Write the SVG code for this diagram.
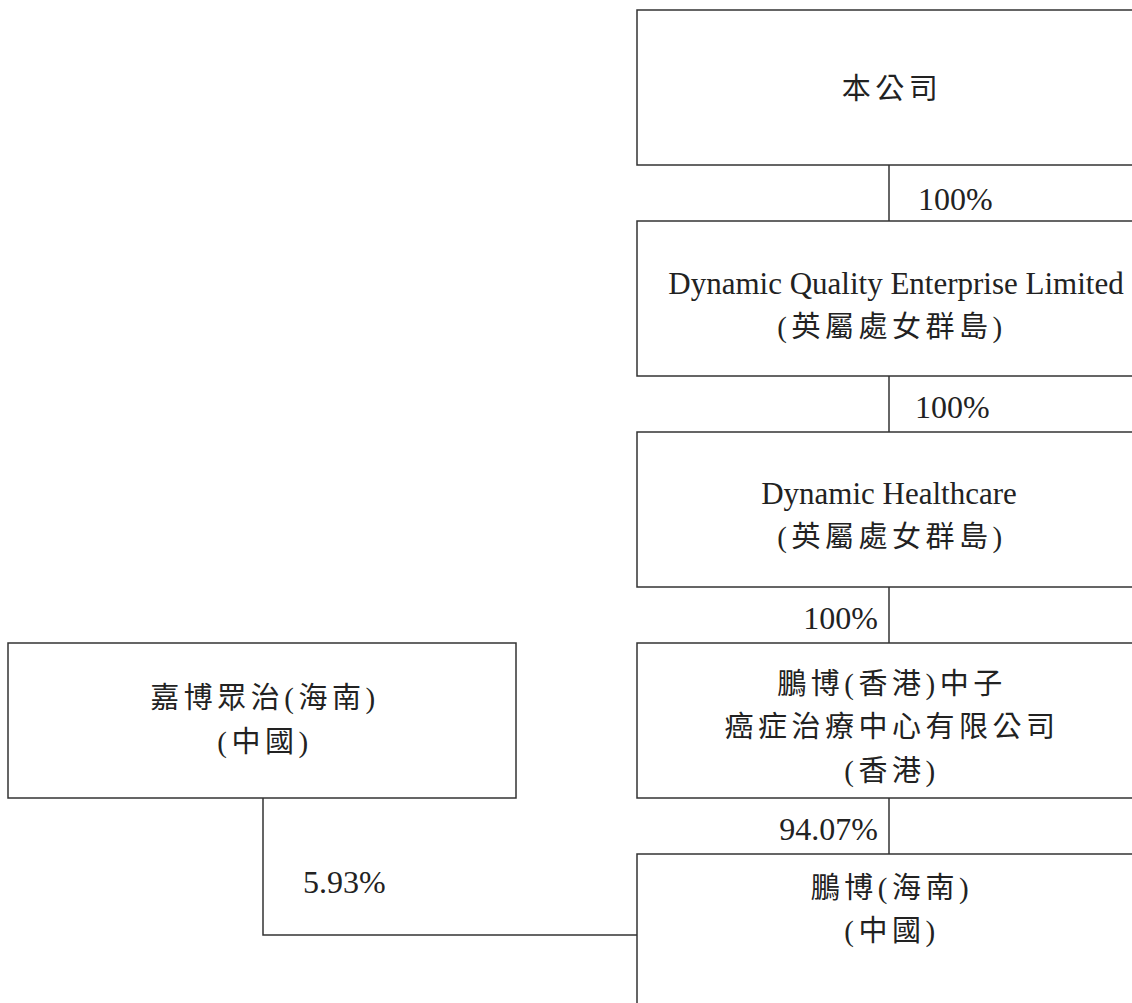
<svg xmlns="http://www.w3.org/2000/svg" width="1132" height="1003" viewBox="0 0 1132 1003">
<style>
.box{fill:#fff;stroke:#333;stroke-width:1.5}
.ln{fill:none;stroke:#333;stroke-width:1.5}
.t{font-family:"Liberation Serif","Noto Sans CJK TC",serif;font-size:31px;fill:#222;text-anchor:middle}
.c{font-family:"Liberation Serif","Noto Sans CJK TC",serif;font-size:29px;fill:#222;text-anchor:middle;letter-spacing:4.5px}
.p{font-family:"Liberation Serif",serif;font-size:32px;fill:#222}
</style>
<rect width="1132" height="1003" fill="#fff"/>
<g id="connectors">
<line class="ln" x1="889" y1="165" x2="889" y2="221"/>
<line class="ln" x1="889" y1="376" x2="889" y2="432"/>
<line class="ln" x1="889" y1="587" x2="889" y2="643"/>
<line class="ln" x1="889" y1="798" x2="889" y2="854"/>
<polyline class="ln" points="263,798 263,935 637,935"/>
<text class="p" x="918" y="210">100%</text>
<text class="p" x="915" y="418">100%</text>
<text class="p" x="878" y="629" text-anchor="end">100%</text>
<text class="p" x="878" y="840" text-anchor="end">94.07%</text>
<text class="p" x="303" y="893">5.93%</text>
</g>
<g id="company">
<rect class="box" x="637" y="10" width="510" height="155"/>
<text class="c" x="892" y="99">本公司</text>
</g>
<g id="dqel">
<rect class="box" x="637" y="221" width="510" height="155"/>
<text class="t" x="896" y="294">Dynamic Quality Enterprise Limited</text>
<text class="c" x="892" y="337">(英屬處女群島)</text>
</g>
<g id="dh">
<rect class="box" x="637" y="432" width="510" height="155"/>
<text class="t" x="889" y="504">Dynamic Healthcare</text>
<text class="c" x="892" y="547">(英屬處女群島)</text>
</g>
<g id="hk">
<rect class="box" x="637" y="643" width="510" height="155"/>
<text class="c" x="892" y="694">鵬博(香港)中子</text>
<text class="c" x="892" y="737">癌症治療中心有限公司</text>
<text class="c" x="892" y="781">(香港)</text>
</g>
<g id="hainan">
<rect class="box" x="637" y="854" width="510" height="160"/>
<text class="c" x="892" y="898">鵬博(海南)</text>
<text class="c" x="892" y="941">(中國)</text>
</g>
<g id="jiabo">
<rect class="box" x="8" y="643" width="508" height="155"/>
<text class="c" x="265" y="708">嘉博眾治(海南)</text>
<text class="c" x="265" y="752">(中國)</text>
</g>
</svg>
